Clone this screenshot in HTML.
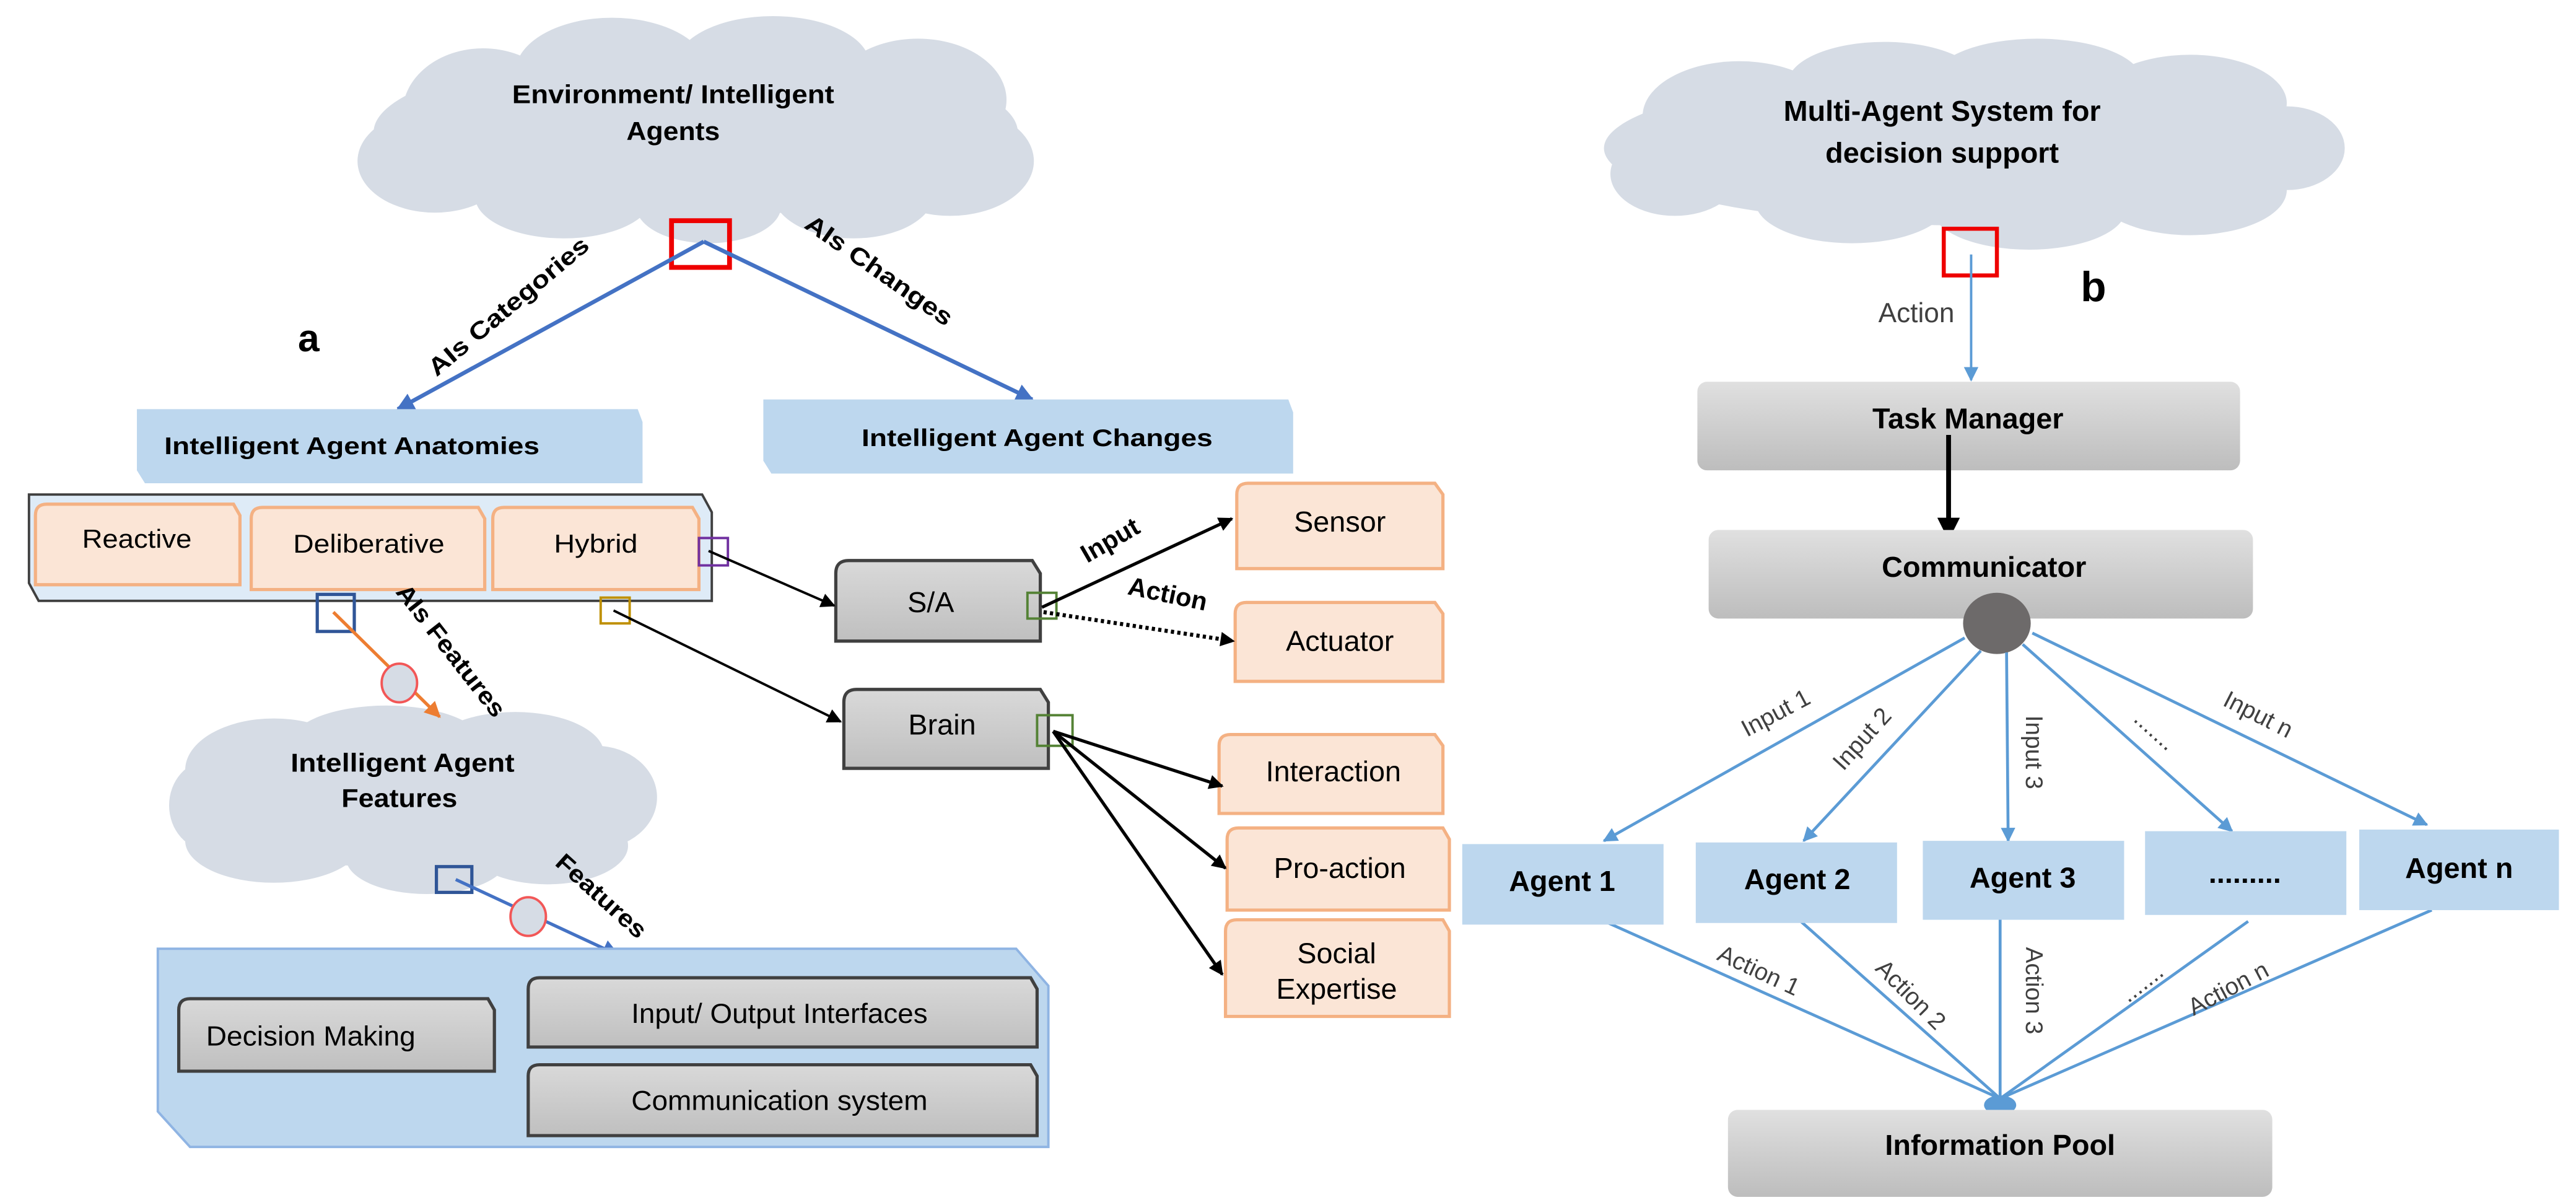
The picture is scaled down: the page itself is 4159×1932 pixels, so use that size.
<!DOCTYPE html>
<html><head><meta charset="utf-8"><style>
html,body{margin:0;padding:0;background:#fff;}
svg{display:block;}
text{font-family:"Liberation Sans",Arial,sans-serif;}
</style></head><body>
<svg width="4159" height="1932" viewBox="0 0 1599.6 743.1" preserveAspectRatio="none" xmlns="http://www.w3.org/2000/svg">
<defs>
<marker id="ab" viewBox="0 0 10 10" refX="9" refY="5" markerUnits="userSpaceOnUse" markerWidth="13" markerHeight="11" orient="auto"><path d="M0,0L10,5L0,10z" fill="#4472c4"/></marker>
<marker id="ar" viewBox="0 0 10 10" refX="9" refY="5" markerUnits="userSpaceOnUse" markerWidth="10" markerHeight="9" orient="auto"><path d="M0,0L10,5L0,10z" fill="#5b9bd5"/></marker>
<marker id="ak" viewBox="0 0 10 10" refX="9" refY="5" markerUnits="userSpaceOnUse" markerWidth="12" markerHeight="9" orient="auto"><path d="M0,0L10,5L0,10z" fill="#000"/></marker>
<marker id="ak2" viewBox="0 0 10 10" refX="9" refY="5" markerUnits="userSpaceOnUse" markerWidth="14" markerHeight="14" orient="auto"><path d="M0,0L10,5L0,10z" fill="#000"/></marker>
<marker id="ao" viewBox="0 0 10 10" refX="9" refY="5" markerUnits="userSpaceOnUse" markerWidth="12" markerHeight="10" orient="auto"><path d="M0,0L10,5L0,10z" fill="#ed7d31"/></marker>
<linearGradient id="g1" x1="0" y1="0" x2="0" y2="1"><stop offset="0" stop-color="#d9d9d9"/><stop offset="1" stop-color="#bfbfbf"/></linearGradient>
<linearGradient id="g2" x1="0" y1="0" x2="0" y2="1"><stop offset="0" stop-color="#e0e0e0"/><stop offset="1" stop-color="#bdbdbd"/></linearGradient>
</defs>

<!-- Cloud 1 -->
<g fill="#d6dce5">
<ellipse cx="432" cy="82" rx="200" ry="52"/>
<ellipse cx="300" cy="70" rx="50" ry="40"/><ellipse cx="380" cy="45" rx="60" ry="34"/><ellipse cx="480" cy="40" rx="60" ry="30"/><ellipse cx="570" cy="62" rx="55" ry="38"/><ellipse cx="590" cy="100" rx="52" ry="34"/><ellipse cx="530" cy="120" rx="50" ry="28"/><ellipse cx="440" cy="128" rx="45" ry="23"/><ellipse cx="350" cy="122" rx="55" ry="26"/><ellipse cx="270" cy="100" rx="48" ry="32"/>
</g>
<!-- Cloud 2 -->
<g fill="#d6dce5">
<ellipse cx="255" cy="497" rx="140" ry="42"/>
<ellipse cx="170" cy="478" rx="55" ry="32"/><ellipse cx="240" cy="462" rx="60" ry="24"/><ellipse cx="320" cy="468" rx="55" ry="26"/><ellipse cx="370" cy="495" rx="38" ry="32"/><ellipse cx="340" cy="525" rx="50" ry="24"/><ellipse cx="265" cy="533" rx="50" ry="22"/><ellipse cx="170" cy="522" rx="55" ry="26"/><ellipse cx="130" cy="500" rx="25" ry="28"/>
</g>
<!-- Cloud 3 -->
<g fill="#d6dce5">
<ellipse cx="1224" cy="92" rx="228" ry="48"/>
<ellipse cx="1080" cy="72" rx="60" ry="34"/><ellipse cx="1170" cy="52" rx="60" ry="26"/><ellipse cx="1265" cy="50" rx="65" ry="26"/><ellipse cx="1360" cy="64" rx="60" ry="30"/><ellipse cx="1420" cy="92" rx="36" ry="26"/><ellipse cx="1360" cy="118" rx="60" ry="28"/><ellipse cx="1260" cy="130" rx="60" ry="25"/><ellipse cx="1150" cy="125" rx="60" ry="26"/><ellipse cx="1040" cy="108" rx="40" ry="26"/>
</g>

<text x="418" y="64" font-size="16" font-weight="bold" text-anchor="middle" textLength="200" lengthAdjust="spacingAndGlyphs">Environment/ Intelligent</text>
<text x="418" y="87" font-size="16" font-weight="bold" text-anchor="middle" textLength="58" lengthAdjust="spacingAndGlyphs">Agents</text>
<rect x="417" y="137" width="36" height="29" fill="none" stroke="#e00" stroke-width="3"/>
<line x1="437" y1="150" x2="247" y2="254" stroke="#4472c4" stroke-width="2.5" marker-end="url(#ab)"/>
<line x1="437" y1="150" x2="641" y2="248" stroke="#4472c4" stroke-width="2.5" marker-end="url(#ab)"/>
<text transform="translate(319,194) rotate(-40)" font-size="15" font-weight="bold" text-anchor="middle" textLength="125" lengthAdjust="spacingAndGlyphs">AIs Categories</text>
<text transform="translate(543,172) rotate(35)" font-size="15" font-weight="bold" text-anchor="middle" textLength="108" lengthAdjust="spacingAndGlyphs">AIs Changes</text>
<text x="185" y="218" font-family="Liberation Serif,serif" font-size="24" font-weight="bold">a</text>

<path d="M85,254 H396 L399,262 V300 H90 L85,292 Z" fill="#bdd7ee"/>
<text x="102" y="282" font-size="15" font-weight="bold" textLength="233" lengthAdjust="spacingAndGlyphs">Intelligent Agent Anatomies</text>
<path d="M474,248 H800 L803,256 V294 H479 L474,286 Z" fill="#bdd7ee"/>
<text x="644" y="277" font-size="15" font-weight="bold" text-anchor="middle" textLength="218" lengthAdjust="spacingAndGlyphs">Intelligent Agent Changes</text>

<path d="M18,307 H436 L442,318 V373 H24 L18,362 Z" fill="#deebf7" stroke="#404040" stroke-width="1.5"/>
<g fill="#fbe5d6" stroke="#f4b183" stroke-width="2">
<path d="M22,320 Q22,313 29,313 H145 L149,320 V363 H22 Z"/>
<path d="M156,322 Q156,315 163,315 H297 L301,322 V366 H156 Z"/>
<path d="M306,322 Q306,315 313,315 H430 L434,322 V366 H306 Z"/>
</g>
<text x="85" y="340" font-size="16" text-anchor="middle" textLength="68" lengthAdjust="spacingAndGlyphs">Reactive</text>
<text x="229" y="343" font-size="16" text-anchor="middle" textLength="94" lengthAdjust="spacingAndGlyphs">Deliberative</text>
<text x="370" y="343" font-size="16" text-anchor="middle" textLength="52" lengthAdjust="spacingAndGlyphs">Hybrid</text>

<rect x="434" y="334" width="18" height="17" fill="none" stroke="#7030a0" stroke-width="1.5"/>
<rect x="197" y="369" width="23" height="23" fill="none" stroke="#2f5597" stroke-width="2"/>
<rect x="373" y="371" width="18" height="16" fill="none" stroke="#bf9000" stroke-width="1.5"/>

<g fill="url(#g1)" stroke="#404040" stroke-width="2">
<path d="M519,356 Q519,348 527,348 H641 L646,356 V398 H519 Z"/>
<path d="M524,436 Q524,428 532,428 H646 L651,436 V477 H524 Z"/>
</g>
<text x="578" y="380" font-size="18" text-anchor="middle">S/A</text>
<text x="585" y="456" font-size="18" text-anchor="middle">Brain</text>
<line x1="440" y1="342" x2="518" y2="376" stroke="#000" stroke-width="1.5" marker-end="url(#ak)"/>
<line x1="381" y1="379" x2="522" y2="448" stroke="#000" stroke-width="1.5" marker-end="url(#ak)"/>
<rect x="638" y="368" width="18" height="16" fill="none" stroke="#548235" stroke-width="1.5"/>
<rect x="644" y="444" width="22" height="19" fill="none" stroke="#548235" stroke-width="1.5"/>

<g fill="#fbe5d6" stroke="#f4b183" stroke-width="2">
<path d="M768,307 Q768,300 775,300 H891 L896,307 V353 H768 Z"/>
<path d="M767,381 Q767,374 774,374 H891 L896,381 V423 H767 Z"/>
<path d="M757,463 Q757,456 764,456 H891 L896,463 V505 H757 Z"/>
<path d="M762,521 Q762,514 769,514 H896 L900,521 V565 H762 Z"/>
<path d="M761,578 Q761,571 768,571 H896 L900,578 V631 H761 Z"/>
</g>
<g font-size="18" text-anchor="middle">
<text x="832" y="330">Sensor</text>
<text x="832" y="404">Actuator</text>
<text x="828" y="485">Interaction</text>
<text x="832" y="545">Pro-action</text>
<text x="830" y="598">Social</text>
<text x="830" y="620">Expertise</text>
</g>

<line x1="647" y1="377" x2="765" y2="322" stroke="#000" stroke-width="2" marker-end="url(#ak)"/>
<line x1="648" y1="380" x2="766" y2="398" stroke="#000" stroke-width="2.5" stroke-dasharray="2,2" marker-end="url(#ak)"/>
<text transform="translate(692,340) rotate(-30)" font-size="16" font-weight="bold" text-anchor="middle">Input</text>
<text transform="translate(724,374) rotate(12)" font-size="16" font-weight="bold" text-anchor="middle">Action</text>
<line x1="654" y1="454" x2="759" y2="488" stroke="#000" stroke-width="2" marker-end="url(#ak)"/>
<line x1="654" y1="454" x2="761" y2="539" stroke="#000" stroke-width="2" marker-end="url(#ak)"/>
<line x1="654" y1="454" x2="759" y2="605" stroke="#000" stroke-width="2" marker-end="url(#ak)"/>

<line x1="207" y1="380" x2="273" y2="445" stroke="#ed7d31" stroke-width="2" marker-end="url(#ao)"/>
<ellipse cx="248" cy="424" rx="11" ry="12" fill="#d6dce5" stroke="#f25757" stroke-width="1.5"/>
<text transform="translate(276,407) rotate(52)" font-size="15" font-weight="bold" text-anchor="middle" textLength="100" lengthAdjust="spacingAndGlyphs">AIs Features</text>

<text x="250" y="479" font-size="16" font-weight="bold" text-anchor="middle" textLength="139" lengthAdjust="spacingAndGlyphs">Intelligent Agent</text>
<text x="248" y="501" font-size="16" font-weight="bold" text-anchor="middle" textLength="72" lengthAdjust="spacingAndGlyphs">Features</text>
<rect x="271" y="538" width="22" height="16" fill="none" stroke="#2f5597" stroke-width="2"/>
<line x1="283" y1="546" x2="384" y2="593" stroke="#4472c4" stroke-width="2" marker-end="url(#ab)"/>
<ellipse cx="328" cy="569" rx="11" ry="12" fill="#d6dce5" stroke="#f25757" stroke-width="1.5"/>
<text transform="translate(370,560) rotate(42)" font-size="15" font-weight="bold" text-anchor="middle" textLength="70" lengthAdjust="spacingAndGlyphs">Features</text>

<path d="M98,589 H631 L651,612 V712 H118 L98,690 Z" fill="#bdd7ee" stroke="#8fb4e3" stroke-width="1.5"/>
<g fill="url(#g1)" stroke="#404040" stroke-width="2">
<path d="M111,627 Q111,620 118,620 H303 L307,627 V665 H111 Z"/>
<path d="M328,614 Q328,607 335,607 H640 L644,614 V650 H328 Z"/>
<path d="M328,668 Q328,661 335,661 H640 L644,668 V705 H328 Z"/>
</g>
<text x="193" y="649" font-size="17" text-anchor="middle" textLength="130" lengthAdjust="spacingAndGlyphs">Decision Making</text>
<text x="484" y="635" font-size="17" text-anchor="middle" textLength="184" lengthAdjust="spacingAndGlyphs">Input/ Output Interfaces</text>
<text x="484" y="689" font-size="17" text-anchor="middle" textLength="184" lengthAdjust="spacingAndGlyphs">Communication system</text>

<!-- Right panel -->
<text x="1206" y="75" font-size="18" font-weight="bold" text-anchor="middle">Multi-Agent System for</text>
<text x="1206" y="101" font-size="18" font-weight="bold" text-anchor="middle">decision support</text>
<rect x="1207" y="142" width="33" height="29" fill="none" stroke="#e00" stroke-width="2.5"/>
<line x1="1224" y1="158" x2="1224" y2="236" stroke="#5b9bd5" stroke-width="1.5" marker-end="url(#ar)"/>
<text x="1190" y="200" font-size="17" fill="#404040" text-anchor="middle">Action</text>
<text x="1292" y="187" font-family="Liberation Serif,serif" font-size="26" font-weight="bold">b</text>

<rect x="1054" y="237" width="337" height="55" rx="6" fill="url(#g2)"/>
<text x="1222" y="266" font-size="18" font-weight="bold" text-anchor="middle">Task Manager</text>
<line x1="1210" y1="270" x2="1210" y2="334" stroke="#000" stroke-width="3" marker-end="url(#ak2)"/>
<rect x="1061" y="329" width="338" height="55" rx="6" fill="url(#g2)"/>
<text x="1232" y="358" font-size="18" font-weight="bold" text-anchor="middle">Communicator</text>
<ellipse cx="1240" cy="387" rx="21" ry="19" fill="#6d6a6a"/>

<g stroke="#5b9bd5" stroke-width="1.8" fill="none">
<line x1="1220" y1="396" x2="996" y2="522" marker-end="url(#ar)"/>
<line x1="1230" y1="404" x2="1120" y2="522" marker-end="url(#ar)"/>
<line x1="1246" y1="405" x2="1247" y2="522" marker-end="url(#ar)"/>
<line x1="1256" y1="400" x2="1386" y2="516" marker-end="url(#ar)"/>
<line x1="1262" y1="393" x2="1507" y2="512" marker-end="url(#ar)"/>
<line x1="992" y1="570" x2="1242" y2="682"/>
<line x1="1116" y1="570" x2="1242" y2="682"/>
<line x1="1242" y1="570" x2="1242" y2="682"/>
<line x1="1396" y1="572" x2="1242" y2="682"/>
<line x1="1510" y1="565" x2="1242" y2="682"/>
</g>
<ellipse cx="1242" cy="686" rx="10" ry="6" fill="#5b9bd5"/>

<g fill="#bdd7ee">
<rect x="908" y="524" width="125" height="50"/>
<rect x="1053" y="523" width="125" height="50"/>
<rect x="1194" y="522" width="125" height="49"/>
<rect x="1332" y="516" width="125" height="52"/>
<rect x="1465" y="515" width="124" height="50"/>
</g>
<g font-size="18" font-weight="bold" text-anchor="middle">
<text x="970" y="553">Agent 1</text>
<text x="1116" y="552">Agent 2</text>
<text x="1256" y="551">Agent 3</text>
<text x="1394" y="548">.........</text>
<text x="1527" y="545">Agent n</text>
</g>

<g font-size="15" fill="#404040" text-anchor="middle">
<text transform="translate(1105,447) rotate(-28)">Input 1</text>
<text transform="translate(1160,462) rotate(-48)">Input 2</text>
<text transform="translate(1258,467) rotate(90)">Input 3</text>
<text transform="translate(1335,457) rotate(42)">.......</text>
<text transform="translate(1400,448) rotate(27)">Input n</text>
<text transform="translate(1090,607) rotate(25)">Action 1</text>
<text transform="translate(1183,621) rotate(45)">Action 2</text>
<text transform="translate(1258,615) rotate(90)">Action 3</text>
<text transform="translate(1333,614) rotate(-38)">.......</text>
<text transform="translate(1386,618) rotate(-28)">Action n</text>
</g>

<rect x="1073" y="689" width="338" height="54" rx="6" fill="url(#g2)"/>
<text x="1242" y="717" font-size="18" font-weight="bold" text-anchor="middle">Information Pool</text>
</svg>
</body></html>
